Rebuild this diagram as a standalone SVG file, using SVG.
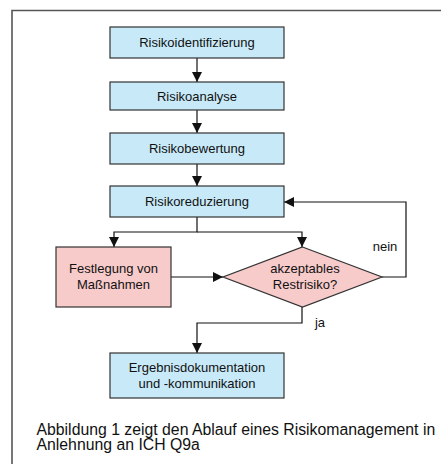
<svg xmlns="http://www.w3.org/2000/svg" width="441" height="464" viewBox="0 0 441 464">
<style>
text{font-family:"Liberation Sans",Arial,sans-serif;font-size:13px;fill:#111;text-anchor:middle}
.blue{fill:#c8eaf8;stroke:#333;stroke-width:1.2}
.pink{fill:#f8cbcb;stroke:#333;stroke-width:1.2}
.conn path{fill:none;stroke:#111;stroke-width:1.2}
.cap{font-size:15.8px;text-anchor:start}
</style>
<defs>
<marker id="ah" viewBox="0 0 10 10" refX="10" refY="5" markerWidth="10" markerHeight="10" markerUnits="userSpaceOnUse" orient="auto">
<path d="M0,0 L10,5 L0,10 Z" fill="#111"/>
</marker>
</defs>
<rect width="441" height="464" fill="#fff"/>
<path d="M12,470 V10.5 H450" fill="none" stroke="#555" stroke-width="1.6"/>
<g class="conn">
<path d="M197,58 V82" marker-end="url(#ah)"/>
<path d="M197,110 V133" marker-end="url(#ah)"/>
<path d="M197,164 V186" marker-end="url(#ah)"/>
<path d="M197,217 V232 H114 V247" marker-end="url(#ah)"/>
<path d="M197,232 H302 V247" marker-end="url(#ah)"/>
<path d="M171,277 H223" marker-end="url(#ah)"/>
<path d="M382,277 H406 V202 H284" marker-end="url(#ah)"/>
<path d="M302,307 V323 H197 V353" marker-end="url(#ah)"/>
</g>
<g id="n1"><rect class="blue" x="110" y="27" width="174" height="31"/><text x="197" y="47">Risikoidentifizierung</text></g>
<g id="n2"><rect class="blue" x="110" y="82" width="174" height="28"/><text x="197" y="100.5">Risikoanalyse</text></g>
<g id="n3"><rect class="blue" x="110" y="133" width="174" height="31"/><text x="197" y="153">Risikobewertung</text></g>
<g id="n4"><rect class="blue" x="110" y="186" width="174" height="31"/><text x="197" y="206">Risikoreduzierung</text></g>
<g id="n5"><rect class="pink" x="56" y="247" width="115" height="60"/><text x="113.5" y="273">Festlegung von</text><text x="113.5" y="289">Maßnahmen</text></g>
<g id="n6"><path class="pink" d="M302.5,247 L382,277 L302.5,307 L223,277 Z"/><text x="305" y="273">akzeptables</text><text x="305" y="289">Restrisiko?</text></g>
<g id="n7"><rect class="blue" x="110" y="353" width="174" height="45"/><text x="197" y="371.5">Ergebnisdokumentation</text><text x="197" y="387.5">und -kommunikation</text></g>
<text x="385" y="250.5">nein</text>
<text x="320" y="327">ja</text>
<text class="cap" x="36.5" y="434.5">Abbildung 1 zeigt den Ablauf eines Risikomanagement in</text>
<text class="cap" x="36.5" y="450">Anlehnung an ICH Q9a</text>
</svg>
